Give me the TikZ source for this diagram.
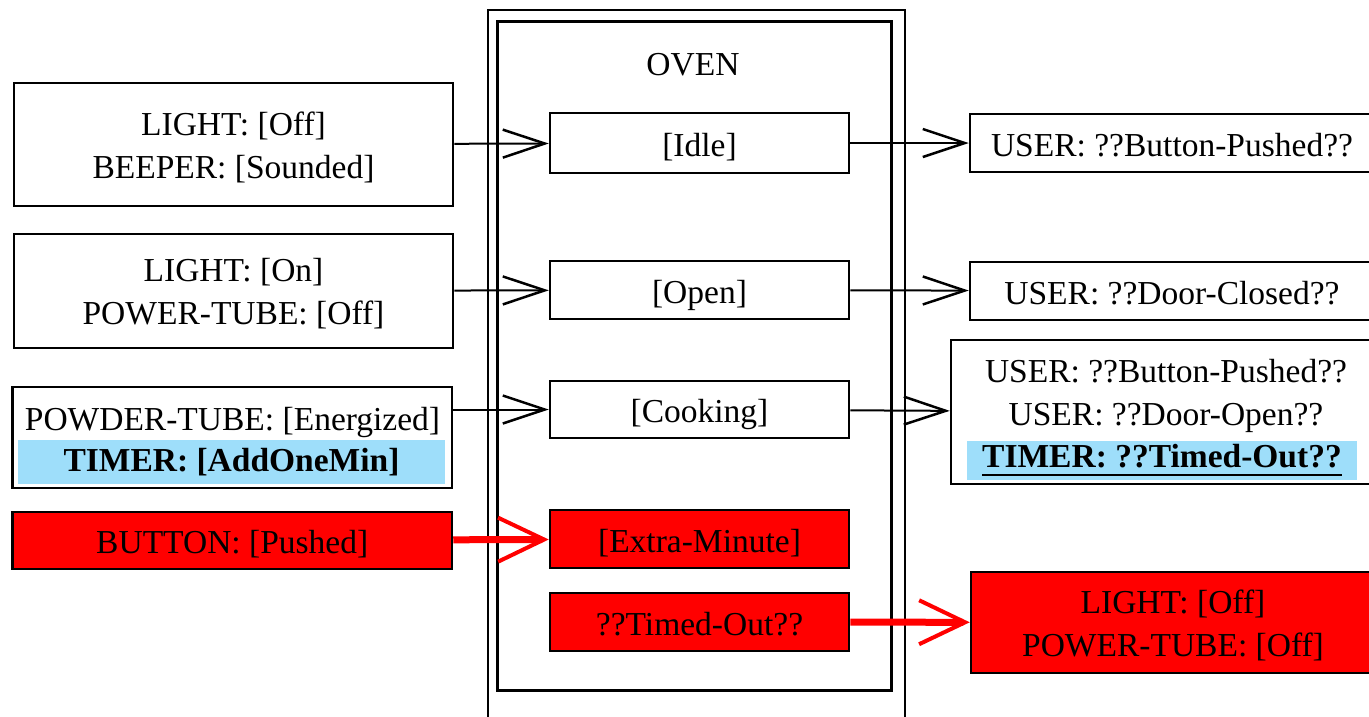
\documentclass[tikz,border=0pt]{standalone}
\usepackage{fontspec}
\setmainfont{Liberation Serif}
\usetikzlibrary{arrows.meta}
\definecolor{ovred}{RGB}{255,0,0}
\definecolor{hlblue}{RGB}{158,222,250}
\newsavebox\ulbox
\newcommand\myul[1]{\sbox\ulbox{#1}\rlap{\rule[-9pt]{\wd\ulbox}{2pt}}\usebox\ulbox}
\begin{document}
\begin{tikzpicture}[x=1pt,y=-1pt,
  every node/.style={font=\fontsize{33.5}{43}\selectfont, inner sep=0pt, align=center},
  frame/.style={draw, line width=2.5pt},
  box/.style={draw, line width=2.5pt, text height=26pt, text depth=0pt},
  redbox/.style={box, fill=ovred},
  txt/.style={anchor=base},
  hl/.style={fill=hlblue},
  arr/.style={line width=2pt, -{Straight Barb[length=42pt,width=28pt,line width=2.5pt]}},
  redarr/.style={draw=ovred, line width=7pt, -{Straight Barb[length=46pt,width=44pt,line width=4pt]}}]
\useasboundingbox (0,0) rectangle (1369,716);
\clip (0,0) rectangle (1369,716);
% oven frames
\node[frame, line width=2.2pt, minimum width=417pt, minimum height=730pt] (ovenouter) at (696.5,375) {};
\node[frame, line width=3pt, minimum width=394pt, minimum height=669pt] (oveninner) at (694,355.5) {};
\node[txt] (ovenlabel) at (693,75) {OVEN};
% states
\node[box, minimum width=299pt, minimum height=60pt] (idle) at (699.5,143) {[Idle]};
\node[box, minimum width=299pt, minimum height=58pt] (open) at (699.5,290) {[Open]};
\node[box, minimum width=299pt, minimum height=57pt] (cook) at (699.5,409.5) {[Cooking]};
\node[redbox, minimum width=299pt, minimum height=58pt] (extra) at (699.5,539) {[Extra-Minute]};
\node[redbox, minimum width=299pt, minimum height=58pt] (timed) at (699.5,622) {??Timed-Out??};
% left boxes
\node[box, minimum width=439pt, minimum height=123pt] (l1) at (233.5,144.5) {};
\node[txt] (l1a) at (233.5,135) {LIGHT: [Off]};
\node[txt] (l1b) at (233.5,178) {BEEPER: [Sounded]};
\node[box, minimum width=439pt, minimum height=114pt] (l2) at (233.5,291) {};
\node[txt] (l2a) at (233.5,281.5) {LIGHT: [On]};
\node[txt] (l2b) at (233.5,324.5) {POWER-TUBE: [Off]};
\node[box, minimum width=439.5pt, minimum height=101pt] (l3) at (232.25,437.5) {};
\node[txt] (l3a) at (232.5,430) {POWDER-TUBE: [Energized]};
\node[hl, minimum width=427pt, minimum height=44pt] (l3b) at (231.5,462) {\textbf{TIMER: [AddOneMin]}};
\node[redbox, minimum width=439.5pt, minimum height=57pt] (l4) at (232.25,540.5) {BUTTON: [Pushed]};
% right boxes
\node[box, minimum width=404pt, minimum height=58pt] (r1) at (1172,143) {USER: ??Button-Pushed??};
\node[box, minimum width=404pt, minimum height=58pt] (r2) at (1172,291) {USER: ??Door-Closed??};
\node[box, minimum width=430pt, minimum height=144pt] (r3) at (1166,412) {};
\node[txt] (r3a) at (1166,382) {USER: ??Button-Pushed??};
\node[txt] (r3b) at (1166,425) {USER: ??Door-Open??};
\node[hl, minimum width=390pt, minimum height=39pt] (r3c) at (1162,460) {\myul{\textbf{TIMER: ??Timed-Out??}}};
\node[redbox, minimum width=404pt, minimum height=101pt] (r4) at (1173,622.5) {};
\node[txt] (r4a) at (1173,613) {LIGHT: [Off]};
\node[txt] (r4b) at (1173,656) {POWER-TUBE: [Off]};
% connectors
\draw[arr] (l1) -- (idle);
\draw[arr] (l2) -- (open);
\draw[arr] (l3.east |- cook) -- (cook);
\draw[arr] (idle) -- (r1);
\draw[arr] (open) -- (r2);
\draw[arr] (cook) -- (r3);
\draw[redarr] (l4) -- (extra);
\draw[redarr] (timed) -- (r4);
\end{tikzpicture}
\end{document}
